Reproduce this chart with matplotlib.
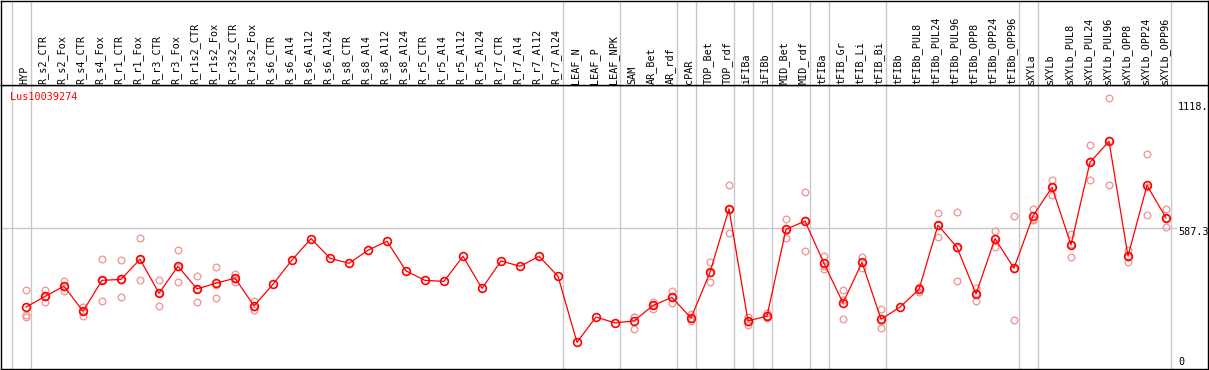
#!/usr/bin/env python3

import numpy as np
import matplotlib
matplotlib.use("Agg")
import matplotlib.pyplot as plt

GENE = "Lus10039274"

samples = [
    "HYP", "R_s2_CTR", "R_s2_Fox", "R_s4_CTR", "R_s4_Fox", "R_r1_CTR", "R_r1_Fox",
    "R_r3_CTR", "R_r3_Fox", "R_r1s2_CTR", "R_r1s2_Fox", "R_r3s2_CTR", "R_r3s2_Fox",
    "R_s6_CTR", "R_s6_Al4", "R_s6_Al12", "R_s6_Al24", "R_s8_CTR", "R_s8_Al4",
    "R_s8_Al12", "R_s8_Al24", "R_r5_CTR", "R_r5_Al4", "R_r5_Al12", "R_r5_Al24",
    "R_r7_CTR", "R_r7_Al4", "R_r7_Al12", "R_r7_Al24", "LEAF_N", "LEAF_P", "LEAF_NPK",
    "SAM", "AR_Bet", "AR_rdf", "cPAR", "TOP_Bet", "TOP_rdf", "iFIBa", "iFIBb",
    "MID_Bet", "MID_rdf", "tFIBa", "tFIB_Gr", "tFIB_Li", "tFIB_Bi", "tFIBb",
    "tFIBb_PUL8", "tFIBb_PUL24", "tFIBb_PUL96", "tFIBb_OPP8", "tFIBb_OPP24",
    "tFIBb_OPP96", "sXYLa", "sXYLb", "sXYLb_PUL8", "sXYLb_PUL24", "sXYLb_PUL96",
    "sXYLb_OPP8", "sXYLb_OPP24", "sXYLb_OPP96",
]

means = [
    263, 307, 349, 246, 373, 377, 460, 320, 431, 338, 361, 382, 268,
    357, 457, 545, 464, 443, 497, 534, 412, 373, 369, 472, 340, 453,
    431, 472, 390, 118, 222, 198, 206, 270, 303, 218, 406, 667, 206,
    226, 583, 617, 443, 280, 447, 213, 263, 336, 600, 509, 317, 545,
    423, 638, 756, 519, 859, 945, 473, 764, 630,
]

replicates = [
    [333, 232, 224], [333, 283, 306], [372, 329, 345], [265, 228, 245],
    [460, 287, 373], [456, 303, 373], [546, 375, 459], [375, 266, 319],
    [498, 365, 429], [390, 284, 339], [427, 300, 355], [398, 368, 379],
    [289, 250, 263], [], [], [], [], [], [], [], [], [], [], [], [], [],
    [], [], [], [], [], [], [224, 172, 222], [285, 254, 272],
    [328, 279, 303], [213, 207, 235], [447, 368, 403], [766, 567, 668],
    [224, 191, 203], [238, 217, 225], [626, 546, 577], [737, 494, 622],
    [475, 421, 434], [333, 213, 293], [470, 424, 447], [255, 176, 207],
    [], [324, 345, 340], [649, 550, 600], [653, 369, 505], [340, 289, 321],
    [576, 512, 546], [638, 210, 420], [667, 622, 626], [786, 724, 757],
    [564, 470, 521], [929, 785, 863], [1122, 764, 950], [499, 450, 471],
    [892, 642, 759], [666, 594, 630],
]

# groups end after these sample indices
group_ends = [-1, 0, 28, 31, 34, 35, 37, 38, 39, 41, 42, 45, 52, 53, 60]

scale_labels = ["1118.", "587.3", "0"]
grid_value = 587.3

W, H = 1209, 370


def main():
    plt.rcParams["font.family"] = "DejaVu Sans Mono"
    fig = plt.figure(figsize=(W / 100, H / 100), dpi=100)

    left, right = 1, 1208
    head, bottom = 85, 369
    x_first, step = 26, 19
    zero_px, px_per_unit = 371.0, 0.24298

    ax = fig.add_axes([left / W, 1 - bottom / H, (right - left) / W, (bottom - head) / H])
    hx = fig.add_axes([left / W, 1 - head / H, (right - left) / W, (head - 0.6) / H])

    xlim = ((left - x_first) / step, (right - x_first) / step)
    for a in (ax, hx):
        a.set_xlim(*xlim)
        a.set_xticks([])
        a.set_yticks([])
        for s in a.spines.values():
            s.set_linewidth(1.0)
            s.set_color("black")
    ax.set_ylim((zero_px - bottom) / px_per_unit, (zero_px - head) / px_per_unit)
    hx.set_ylim(0, head)

    for k in group_ends:
        for a in (ax, hx):
            a.axvline(k + 0.25, color="#c8c8c8", lw=1.0, zorder=0)
    ax.axhline(grid_value, xmax=(1176 - left) / (right - left), color="#c8c8c8", lw=1.0, zorder=0)

    xs = np.arange(len(samples))
    for i, reps in enumerate(replicates):
        if reps:
            ax.plot([i] * len(reps), reps, "o", mfc="none", mec="#f09a9a", ms=4.8, mew=1.0, zorder=2)
    ax.plot(xs, means, "-", color="red", lw=0.9, zorder=3)
    ax.plot(xs, means, "o", mfc="none", mec="red", ms=5.6, mew=1.2, zorder=4)

    for i, lab in enumerate(samples):
        hx.text(i - 0.1, 1.5, lab, rotation=90, ha="center", va="bottom", fontsize=7.3)

    fig.text(10 / W, 1 - 97 / H, GENE, color="red", fontsize=7.3, va="center", ha="left")
    for lab, py in zip(scale_labels, [106.7, 231.7, 361.7]):
        fig.text(1178 / W, 1 - py / H, lab, fontsize=7.3, va="center", ha="left")

    fig.savefig("out.png", dpi=100)


if __name__ == "__main__":
    main()
